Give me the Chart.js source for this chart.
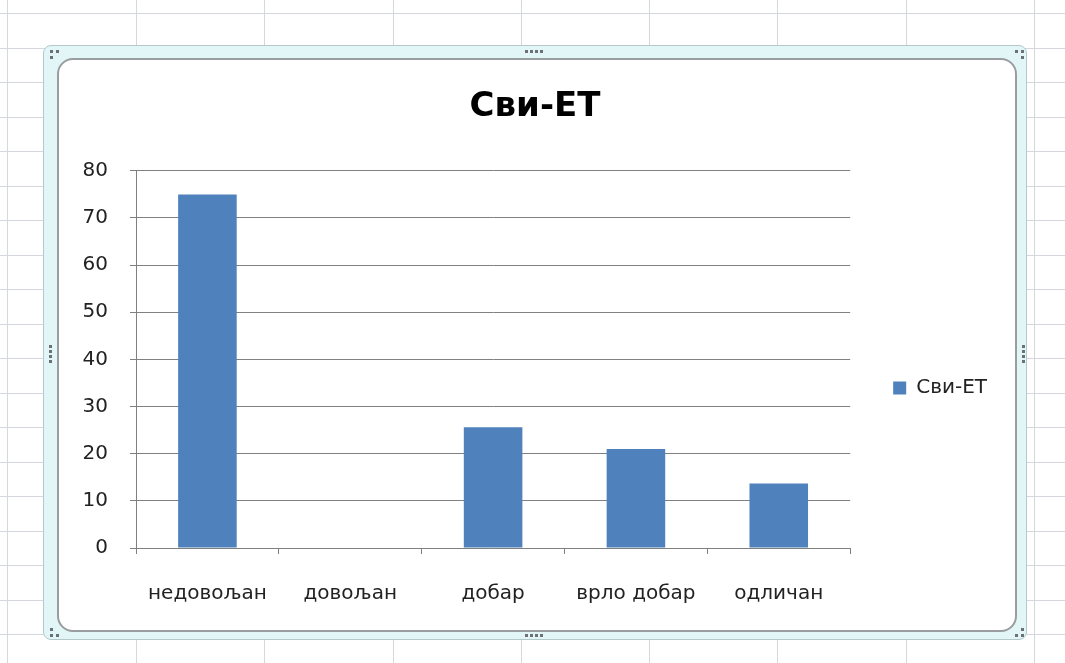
<!DOCTYPE html>
<html>
<head>
<meta charset="utf-8">
<script src="https://cdn.jsdelivr.net/npm/chart.js@4.4.1/dist/chart.umd.min.js"></script>
<style>
  html, body { margin: 0; padding: 0; }
  body {
    width: 1065px; height: 663px; overflow: hidden; position: relative;
    background-color: #ffffff;
  }
  #sheet { position: absolute; left: 0; top: 0; width: 1065px; height: 663px; }
  .vline { position: absolute; top: 0; width: 1px; height: 663px; background: #d4d7de; }
  .hline { position: absolute; left: 0; height: 1px; width: 1065px; background: #d4d7de; }
  #outer {
    position: absolute; left: 43px; top: 45px; width: 984px; height: 595px;
    background: #e3f6f7; border: 1px solid #b4c9cc; border-radius: 8px; box-sizing: border-box;
  }
  #inner {
    position: absolute; left: 57px; top: 58px; width: 960px; height: 574px;
    background: #ffffff; border: 2px solid #9a9d9f; border-radius: 16px; box-sizing: border-box;
  }
  .dot { position: absolute; width: 3px; height: 3px; background: #6b7176; }
  #wrap { position: absolute; left: 0; top: 0; width: 1065px; height: 663px; }
</style>
</head>
<body>
<div id="sheet"></div>
<div id="outer"></div>
<div id="inner"></div>
<div id="dots"></div>
<div id="wrap"><canvas id="c" width="1065" height="663"></canvas></div>
<script>
// ---- data ----
const categories = ['недовољан', 'довољан', 'добар', 'врло добар', 'одличан'];
const seriesName = 'Сви-ЕТ';
const seriesValues = [75, 0, 25.6, 21, 13.7];
const yMin = 0;
const yMax = 80;
const yStep = 10;
const chartTitle = 'Сви-ЕТ';

// ---- spreadsheet background ----
const sheet = document.getElementById('sheet');
const colLines = [7, 136, 264, 393, 521, 649, 777, 906, 1034];
colLines.forEach(x => {
  const d = document.createElement('div'); d.className = 'vline'; d.style.left = x + 'px'; sheet.appendChild(d);
});
for (let y = 13; y < 663; y += 34.5) {
  const d = document.createElement('div'); d.className = 'hline'; d.style.top = Math.round(y) + 'px'; sheet.appendChild(d);
}
// frame handle dots
const dots = document.getElementById('dots');
function dot(x, y) { const d = document.createElement('div'); d.className = 'dot'; d.style.left = x + 'px'; d.style.top = y + 'px'; dots.appendChild(d); }
[[50,50],[56,50],[50,56],[1015,50],[1021,50],[1021,56],[50,634],[50,628],[56,634],[1021,634],[1015,634],[1021,628]].forEach(p => dot(p[0], p[1]));
[525,530,535,540].forEach(x => { dot(x, 50); dot(x, 634); });
[345,350,355,360].forEach(y => { dot(49, y); dot(1022, y); });

// ---- chart ----
const FONT = '"DejaVu Sans", "Open Sans", sans-serif';
const axisColor = '#808080';
const textColor = '#222222';

new Chart(document.getElementById('c'), {
  type: 'bar',
  data: {
    labels: categories,
    datasets: [{
      label: seriesName,
      data: seriesValues,
      backgroundColor: '#4f81bd',
      borderWidth: 0,
      barPercentage: 0.41,
      categoryPercentage: 1.0
    }]
  },
  options: {
    responsive: false,
    animation: false,
    devicePixelRatio: 1,
    layout: { padding: { left: 73, right: 68, top: 0, bottom: 30 } },
    plugins: {
      title: {
        display: true,
        text: chartTitle,
        color: '#000000',
        font: { family: FONT, size: 34, weight: 'bold' },
        padding: { top: 87, bottom: 43 }
      },
      legend: {
        display: true,
        position: 'right',
        align: 'center',
        title: {
          display: true,
          text: ' ',
          font: { family: FONT, size: 10 },
          padding: { top: 0, bottom: 131 }
        },
        labels: {
          color: textColor,
          boxWidth: 13,
          boxHeight: 13,
          padding: 43,
          font: { family: FONT, size: 20 }
        }
      },
      tooltip: { enabled: false }
    },
    scales: {
      x: {
        offset: true,
        grid: {
          offset: true,
          drawOnChartArea: false,
          drawTicks: true,
          tickLength: 6,
          color: axisColor
        },
        border: { display: true, color: axisColor, width: 1 },
        ticks: {
          color: textColor,
          font: { family: FONT, size: 20 },
          padding: 28,
          maxRotation: 0,
          autoSkip: false
        },
        afterFit: (s) => { s.height = 85; }
      },
      y: {
        min: yMin,
        max: yMax,
        grid: {
          color: axisColor,
          drawTicks: true,
          tickLength: 6,
          lineWidth: 1
        },
        border: { display: true, color: axisColor, width: 1 },
        ticks: {
          stepSize: yStep,
          color: textColor,
          font: { family: FONT, size: 20 },
          padding: 22
        },
        afterFit: (s) => { s.width = 63; }
      }
    }
  }
});
</script>
</body>
</html>
